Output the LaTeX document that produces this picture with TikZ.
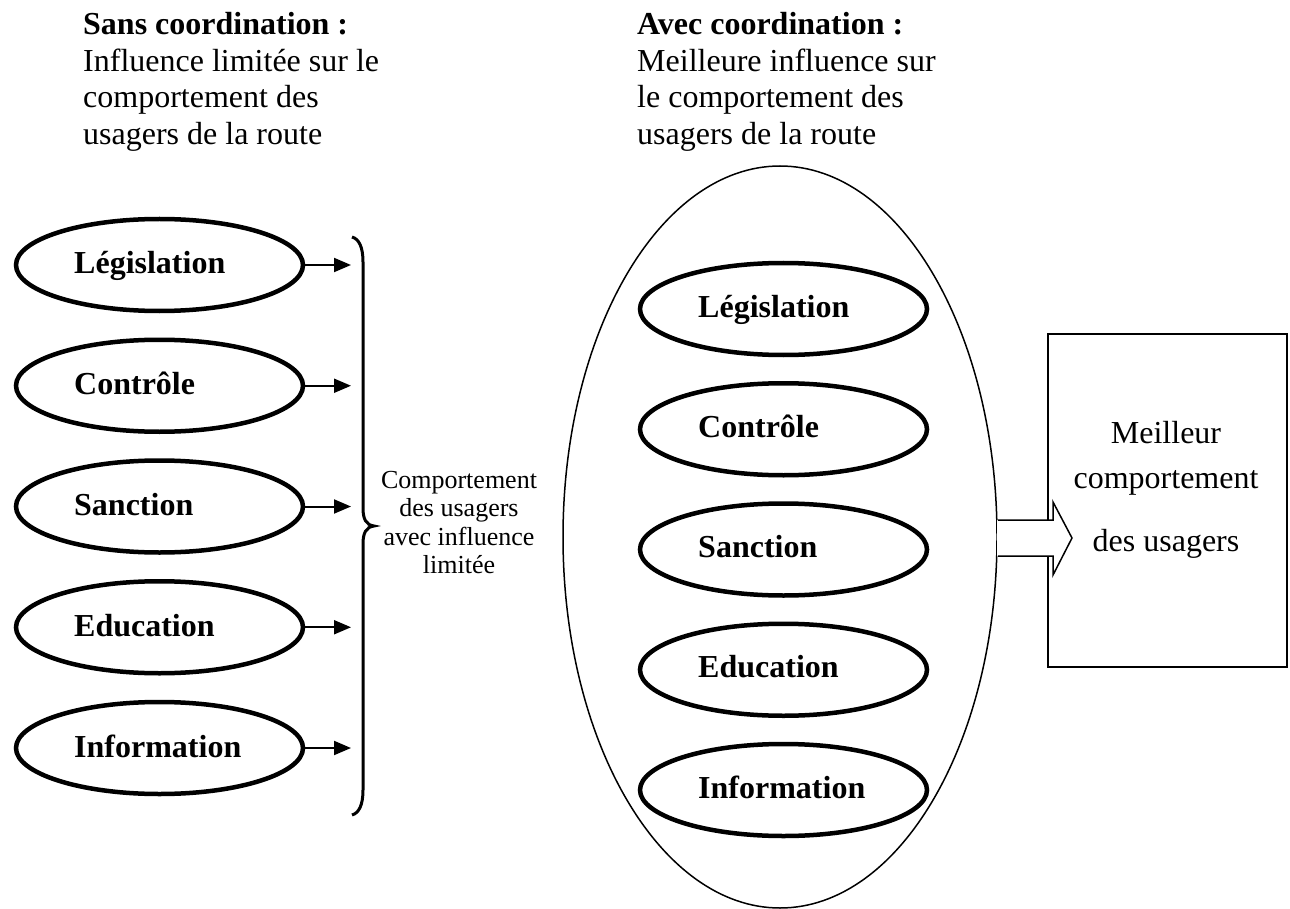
\documentclass[tikz,border=0pt]{standalone}
\usepackage{fontspec}
\setmainfont{Liberation Serif}
\usetikzlibrary{arrows.meta,shapes.geometric}
\begin{document}
\begin{tikzpicture}[x=1pt,y=-1pt,
  oval/.style={draw, ellipse, line width=4.5pt, minimum width=287pt, minimum height=92pt, inner sep=0pt},
  lab/.style={anchor=base west, font=\fontsize{32}{32}\selectfont\bfseries, inner sep=0pt},
  ttl/.style={anchor=base west, font=\fontsize{32}{32}\selectfont, inner sep=0pt},
  ttlb/.style={ttl, font=\fontsize{32}{32}\selectfont\bfseries},
  mid/.style={anchor=base, font=\fontsize{26}{26}\selectfont, inner sep=0pt},
  boxtxt/.style={anchor=base, font=\fontsize{32}{32}\selectfont, inner sep=0pt},
  conn/.style={line width=2pt, -{Triangle[length=17pt,width=14pt]}},
  thin/.style={line width=1.5pt}
]
\path[use as bounding box] (0,0) rectangle (1290,909);

% titles
\node[ttlb] (t1) at (83,35) {Sans coordination :};
\node[ttl] (t2) at (83,71.5) {Influence limitée sur le};
\node[ttl] (t3) at (83,108) {comportement des};
\node[ttl] (t4) at (83,144.5) {usagers de la route};
\node[ttlb] (u1) at (637,35) {Avec coordination :};
\node[ttl] (u2) at (637,71.5) {Meilleure influence sur};
\node[ttl] (u3) at (637,108) {le comportement des};
\node[ttl] (u4) at (637,144.5) {usagers de la route};

% left column
\foreach \t [count=\i] in {Législation,Contrôle,Sanction,Education,Information}{
  \pgfmathsetmacro\yy{265+120.75*(\i-1)}
  \node[oval] (l\i) at (159.5,\yy) {};
  \node[lab] (lt\i) at (74,\yy+9) {\t};
  \coordinate (a\i) at (351,\yy);
  \draw[conn] (l\i.east) -- (a\i);
}

% brace
\draw[line width=3pt] (352,237) .. controls (359,239) and (363,247) .. (363,262)
  -- (363,508) .. controls (363,519) and (366,525) .. (374,526)
  .. controls (366,527) and (363,533) .. (363,544)
  -- (363,790) .. controls (363,805) and (359,813) .. (352,815);

\node[mid] (m1) at (459,488) {Comportement};
\node[mid] (m2) at (459,516.5) {des usagers};
\node[mid] (m3) at (459,545) {avec influence};
\node[mid] (m4) at (459,573.5) {limitée};

% big ellipse
\node[draw, ellipse, thin, minimum width=434pt, minimum height=742pt, inner sep=0pt] (big) at (780,537) {};

\foreach \t [count=\i] in {Législation,Contrôle,Sanction,Education,Information}{
  \pgfmathsetmacro\yy{309+120.25*(\i-1)}
  \node[oval] (r\i) at (783.5,\yy) {};
  \node[lab] (rt\i) at (698,\yy+8) {\t};
}

% box
\node[draw, thin, rectangle, minimum width=239pt, minimum height=333pt, inner sep=0pt] (box) at (1167.5,500.5) {};
\node[boxtxt] (b1) at (1166,443) {Meilleur};
\node[boxtxt] (b2) at (1166,488) {comportement};
\node[boxtxt] (b3) at (1166,551) {des usagers};

% block arrow
\fill[white] (997,520) -- (1053,520) -- (1053,502) -- (1072,538) -- (1053,575) -- (1053,556) -- (997,556) -- cycle;
\draw[thin, line join=miter] (big.east |- 0,520) -- (1053,520) -- (1053,502) -- (1072,538) -- (1053,575) -- (1053,556) -- (big.east |- 0,556);
\end{tikzpicture}
\end{document}
